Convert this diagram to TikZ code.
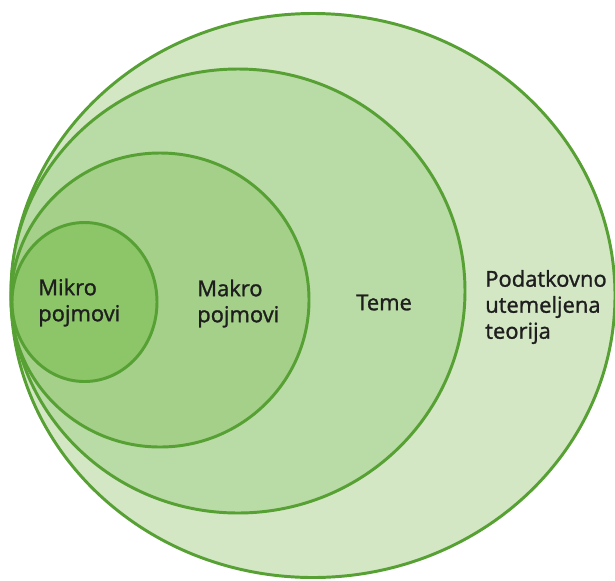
\documentclass[tikz,border=0pt]{standalone}
\usepackage{fontspec}
\newfontfamily\labelfont{Open Sans}[FakeBold=1.3]

\definecolor{ringline}{HTML}{56A034}
\definecolor{fillA}{HTML}{D3E7C5}
\definecolor{fillB}{HTML}{B9DBA5}
\definecolor{fillC}{HTML}{A5D08A}
\definecolor{fillD}{HTML}{8CC669}
\definecolor{labeltext}{HTML}{1E1E1E}

\tikzset{
    ring/.style={draw=ringline, line width=2.1pt},
    label/.style={anchor=west, align=left, inner sep=0pt, text=labeltext,
        font=\labelfont\fontsize{15.6}{18.5}\selectfont}
}

\begin{document}
\begin{tikzpicture}[x=0.025cm, y=-0.025cm]
    \useasboundingbox (0,0) rectangle (615,580);

    % nested sets, all touching on the left
    \draw[ring, fill=fillA] (313,295.5) ellipse [x radius=302, y radius=282];
    \draw[ring, fill=fillB] (238,291) ellipse [x radius=227, y radius=222];
    \draw[ring, fill=fillC] (160,300) ellipse [x radius=149, y radius=147];
    \draw[ring, fill=fillD] (84.5,302) ellipse [x radius=72.5, y radius=79.5];

    \node[label] (mikro) at (38,302.5) {Mikro\\pojmovi};
    \node[label] (makro) at (197,303.5) {Makro\\pojmovi};
    \node[label] (teme) at (356,302.5) {Teme};
    \node[label] (teorija) at (485,307) {Podatkovno\\utemeljena\\teorija};
\end{tikzpicture}
\end{document}
